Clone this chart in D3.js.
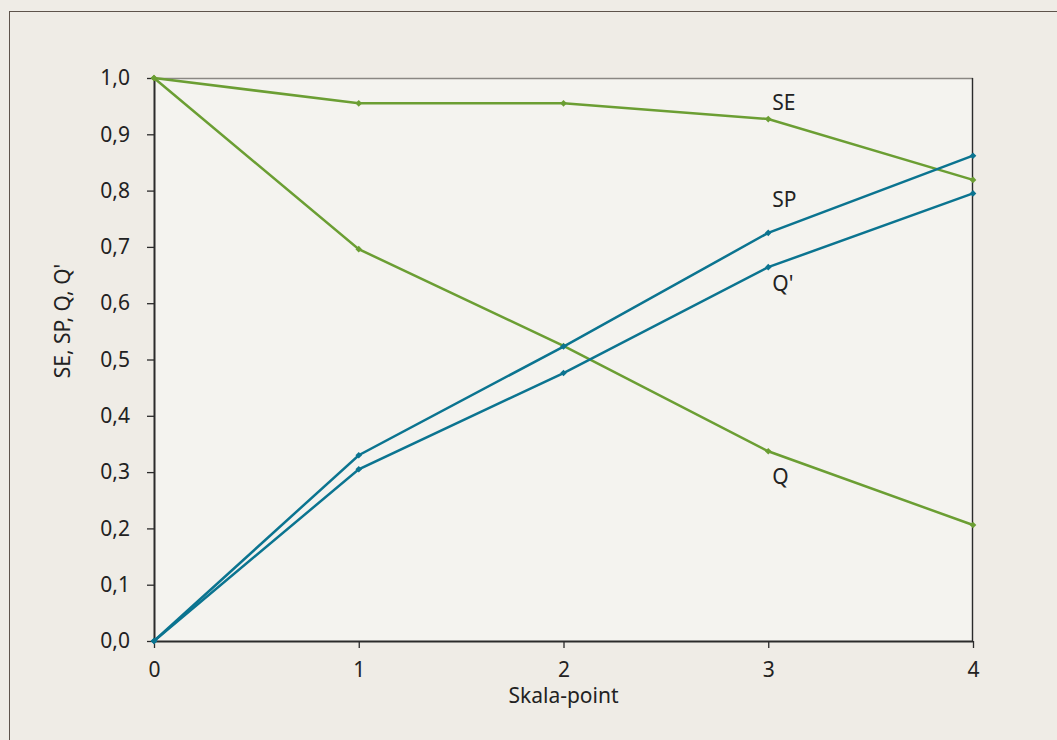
<!DOCTYPE html>
<html><head><meta charset="utf-8">
<script src="https://cdn.jsdelivr.net/npm/d3@7"></script>
<style>body{margin:0;background:#efece6;} svg{display:block;}</style>
</head><body>
<svg id="c" width="1057" height="740"></svg>
<script>
const xTicks = [0, 1, 2, 3, 4];
const yTicks = [0, 0.1, 0.2, 0.3, 0.4, 0.5, 0.6, 0.7, 0.8, 0.9, 1.0];
const seValues = [1.0, 0.955, 0.955, 0.927, 0.819];
const qValues = [1.0, 0.696, 0.524, 0.337, 0.206];
const spValues = [0.0, 0.330, 0.523, 0.725, 0.862];
const qPrimeValues = [0.0, 0.305, 0.476, 0.664, 0.795];
const seriesNames = ["SE", "Q", "SP", "Q'"];
const labelValues = [0.943, 0.279, 0.771, 0.622]; // label baseline y-values at x=3

const green = "#6b9e33", blue = "#0b7490";
const series = [
  {name: "SE", values: seValues, color: green},
  {name: "Q", values: qValues, color: green},
  {name: "SP", values: spValues, color: blue},
  {name: "Q'", values: qPrimeValues, color: blue}
];

const svg = d3.select("#c");
const font = "'Noto Sans', sans-serif";
const fs = 21;
svg.append("rect").attr("x", 9.5).attr("y", 11.5).attr("width", 1100).attr("height", 800)
  .attr("fill", "#efece6").attr("stroke", "#5e544c").attr("stroke-width", 1);

const L = 154, R = 973, T = 78, B = 641;
const x = d3.scaleLinear().domain([0, 4]).range([L, R]);
const y = d3.scaleLinear().domain([0, 1]).range([B, T]);

svg.append("rect").attr("x", L).attr("y", T).attr("width", R - L).attr("height", B - T).attr("fill", "#f4f3ef");
svg.append("line").attr("x1", L).attr("x2", R).attr("y1", T + 0.5).attr("y2", T + 0.5).attr("stroke", "#8a8783").attr("stroke-width", 1.3);
svg.append("line").attr("x1", R - 0.5).attr("x2", R - 0.5).attr("y1", T).attr("y2", B).attr("stroke", "#2b2b2b").attr("stroke-width", 1.4);

const fmt = d => d.toFixed(1).replace(".", ",");
const ya = svg.append("g").attr("transform", `translate(${L},0)`)
  .call(d3.axisLeft(y).tickValues(yTicks).tickFormat(fmt).tickSize(7).tickPadding(17));
const xa = svg.append("g").attr("transform", `translate(0,${B})`)
  .call(d3.axisBottom(x).tickValues(xTicks).tickFormat(d3.format("d")).tickSize(7).tickPadding(14));
[ya, xa].forEach(a => {
  a.attr("font-size", fs).attr("font-family", font);
  a.select(".domain").attr("stroke", "#2b2b2b").attr("stroke-width", 2);
  a.selectAll(".tick line").attr("stroke", "#2b2b2b").attr("stroke-width", 1.3);
  a.selectAll("text").attr("fill", "#222");
});
xa.select(".domain").attr("d", `M${L},0.5H${R}`);
ya.select(".domain").attr("d", `M0.5,${T}V${B}`);

const line = d3.line().x((d, i) => x(xTicks[i])).y(d => y(d));
series.forEach(s => {
  svg.append("path").datum(s.values).attr("d", line).attr("fill", "none")
    .attr("stroke", s.color).attr("stroke-width", 2.5);
  svg.selectAll(null).data(s.values).enter().append("path")
    .attr("d", d3.symbol(d3.symbolSquare, 22)())
    .attr("transform", (d, i) => `translate(${x(xTicks[i])},${y(d)}) rotate(45)`)
    .attr("fill", s.color);
});

seriesNames.forEach((n, i) => {
  svg.append("text").attr("x", x(3) + 4).attr("y", y(labelValues[i]))
    .attr("font-family", font).attr("font-size", fs).attr("fill", "#222").text(n);
});

svg.append("text").attr("x", (L + R) / 2).attr("y", 703).attr("text-anchor", "middle")
  .attr("font-family", font).attr("font-size", fs).attr("fill", "#222").text("Skala-point");
svg.append("text").attr("transform", `translate(70,321) rotate(-90)`).attr("text-anchor", "middle")
  .attr("font-family", font).attr("font-size", fs).attr("fill", "#222").text("SE, SP, Q, Q'");
</script>
</body></html>
